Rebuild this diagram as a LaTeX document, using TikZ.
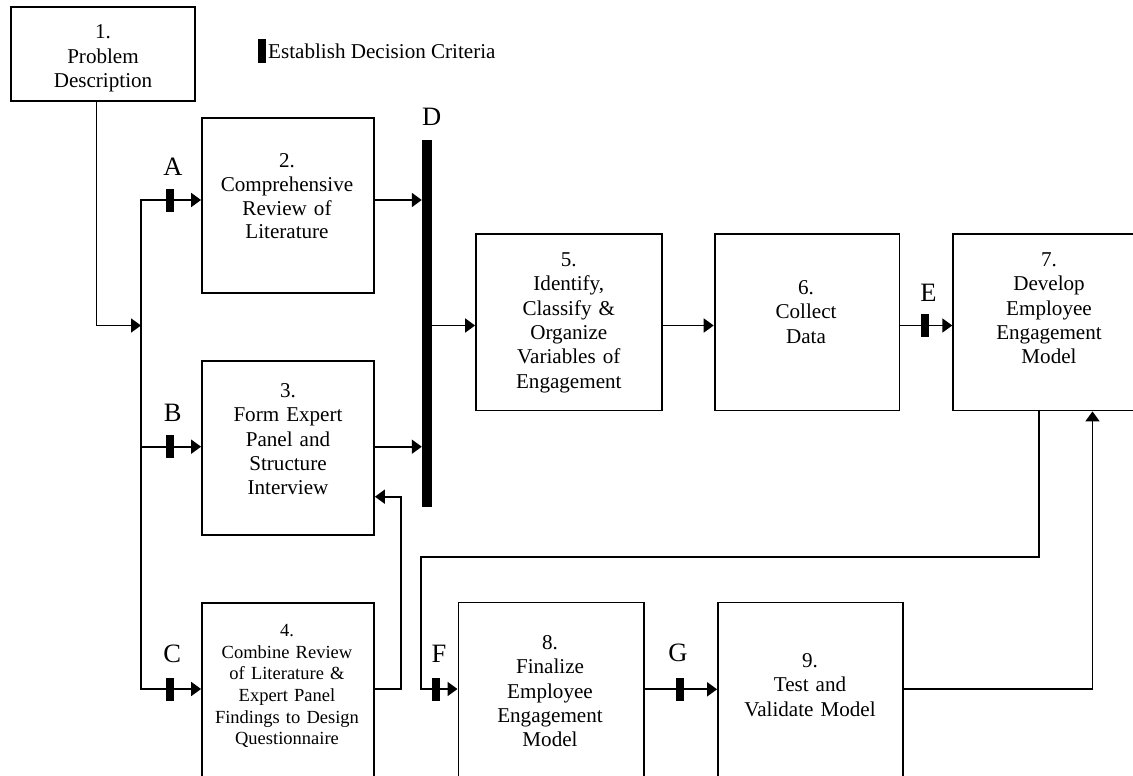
\documentclass[tikz,border=0pt]{standalone}
\usepackage{fontspec}
\setmainfont{Liberation Serif}
\usetikzlibrary{arrows.meta}
\begin{document}
\begin{tikzpicture}[x=1pt,y=-1pt,
  box/.style={draw, rectangle, line width=1.8pt, inner sep=0pt},
  txt/.style={inner sep=0pt, anchor=north, align=center, text width=#1,
    font=\fontsize{21.1}{24.4}\selectfont},
  txt/.default=180pt,
  tighttxt/.style={inner sep=0pt, anchor=north, align=center, text width=170pt,
    font=\fontsize{21.1}{23.7}\selectfont},
  smalltxt/.style={inner sep=0pt, anchor=north, align=center, text width=170pt,
    font=\fontsize{18.5}{21.7}\selectfont},
  lbl/.style={inner sep=0pt, anchor=base, font=\fontsize{26.5}{30}\selectfont},
  mk/.style={fill=black, rectangle, inner sep=0pt, minimum width=8pt, minimum height=23pt},
  tip/.style={-{Triangle[length=10pt,width=14pt]}},
  arr/.style={line width=1.8pt, tip},
]
\useasboundingbox (0,0) rectangle (1133,776);
\clip (0,0) rectangle (1133,776);

% process boxes
\node[box, minimum width=183.9pt, minimum height=93.4pt]  (b1) at (102.65,54) {};
\node[box, minimum width=172pt,   minimum height=175pt]   (b2) at (288,205.2) {};
\node[box, minimum width=172pt,   minimum height=173.7pt] (b3) at (288,447.85) {};
\node[box, minimum width=172pt,   minimum height=196.7pt] (b4) at (288,701.65) {};
\node[box, minimum width=185.7pt, minimum height=176.5pt] (b5) at (568.85,322.25) {};
\node[box, minimum width=184.9pt, minimum height=176.5pt] (b6) at (807.05,322.25) {};
\node[box, minimum width=191.8pt, minimum height=176.5pt] (b7) at (1049.1,322.25) {};
\node[box, minimum width=185.3pt, minimum height=197.5pt] (b8) at (551.05,701.25) {};
\node[box, minimum width=185pt,   minimum height=197.5pt] (b9) at (810.5,701.25) {};

% box texts
\node[txt] (t1) at (103,21.5)  {\strut 1.\\Problem\\Description};
\node[tighttxt] (t2) at (287,151.1) {\strut 2.\\Comprehensive\\Review of\\Literature};
\node[txt] (t3) at (288,380)   {\strut 3.\\Form Expert\\Panel and\\Structure\\Interview};
\node[smalltxt] (t4) at (287,621) {\strut 4.\\Combine Review\\of Literature \&\\Expert Panel\\Findings to Design\\Questionnaire};
\node[txt] (t5) at (568.8,249) {\strut 5.\\Identify,\\Classify \&\\Organize\\Variables of\\Engagement};
\node[txt] (t6) at (806,277)   {\strut 6.\\Collect\\Data};
\node[txt] (t7) at (1049,249)  {\strut 7.\\Develop\\Employee\\Engagement\\Model};
\node[txt] (t8) at (550,632)   {\strut 8.\\Finalize\\Employee\\Engagement\\Model};
\node[txt] (t9) at (810,650)   {\strut 9.\\Test and\\Validate Model};

% decision criteria bar and legend
\node[fill=black, rectangle, inner sep=0pt, minimum width=10pt, minimum height=367pt] (D) at (427,323.5) {};
\node[fill=black, rectangle, inner sep=0pt, minimum width=8pt, minimum height=23.4pt] (lg) at (262,51) {};
\node[inner sep=0pt, anchor=base west, font=\fontsize{21.1}{24.4}\selectfont] (lgt) at (268,58.7) {Establish Decision Criteria};

% junction points
\coordinate (top) at (141,200);
\coordinate (bot) at (141,689);
\coordinate (jb)  at (141,446.7);
\coordinate (mid) at (141,325.5);
\coordinate (k1)  at (96.4,0);
\coordinate (fbc) at (401,496.7);
\coordinate (r1)  at (1038.8,556.7);
\coordinate (r2)  at (421,556.7);
\coordinate (r3)  at (421,689);
\coordinate (u1)  at (1092.5,689.3);

% connectors
\draw[line width=1.8pt, {Triangle[length=10pt,width=14pt]}-{Triangle[length=10pt,width=14pt]}]
  (top -| b2.west) -- (top) -- (bot) -- (bot -| b4.west);
\draw[arr] (b1.south -| k1) |- (mid);
\draw[arr] (jb) -- (jb -| b3.west);
\draw[arr] (b2.east |- top) -- (D.west |- top);
\draw[arr] (b3.east |- jb) -- (D.west |- jb);
\draw[arr] (D.east |- mid) -- (b5.west |- mid);
\draw[arr] (b5.east |- mid) -- (b6.west |- mid);
\draw[arr] (b6.east |- mid) -- (b7.west |- mid);
\draw[arr] (b4.east |- bot) -| (fbc) -- (fbc -| b3.east);
\draw[arr] (b7.south -| r1) -- (r1) -- (r2) -- (r3) -- (r3 -| b8.west);
\draw[arr] (b8.east |- u1) -- (b9.west |- u1);
\draw[arr] (b9.east |- u1) -- (u1) -- (u1 |- b7.south);

% decision-criteria marks on the connectors
\node[mk] (mA) at (170,200)     {};
\node[mk] (mB) at (170,446.7)   {};
\node[mk] (mC) at (170.3,689)   {};
\node[mk] (mE) at (924.7,325.5) {};
\node[mk] (mF) at (435.8,689)   {};
\node[mk] (mG) at (679.6,689.3) {};

% letter labels
\node[lbl] (lA) at (173,175.4)   {A};
\node[lbl] (lB) at (172.7,421.8) {B};
\node[lbl] (lC) at (172.3,662.8) {C};
\node[lbl] (lD) at (431.6,125)   {D};
\node[lbl] (lE) at (928.4,301.5) {E};
\node[lbl] (lF) at (439,662.8)   {F};
\node[lbl] (lG) at (678,661.8)   {G};
\end{tikzpicture}
\end{document}
